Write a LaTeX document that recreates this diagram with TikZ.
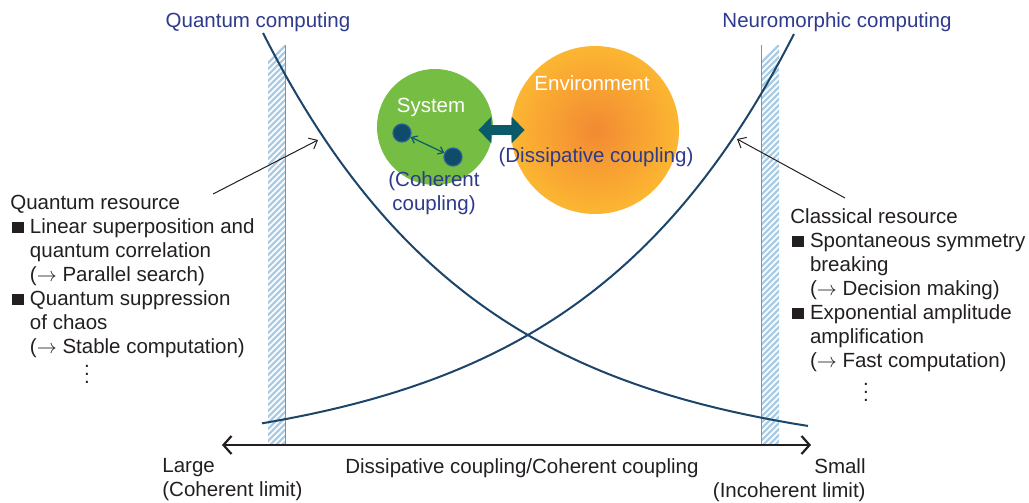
\documentclass[tikz,border=0pt]{standalone}
\usepackage{fontspec}
\setmainfont{Liberation Sans}
\usetikzlibrary{arrows.meta}

\definecolor{textgray}{HTML}{231F20}
\definecolor{titleblue}{HTML}{2E3A8C}
\definecolor{curveblue}{HTML}{1D4569}
\definecolor{hatchblue}{HTML}{A9CBE3}
\definecolor{limitbrown}{HTML}{A38F5B}
\definecolor{sysgreen}{HTML}{76BD43}
\definecolor{envin}{HTML}{F28A33}
\definecolor{envout}{HTML}{FCB632}
\definecolor{arrowteal}{HTML}{0B5A6A}
\definecolor{dotblue}{HTML}{0E4C69}
\definecolor{dotrim}{HTML}{2D5F9A}

\newcommand{\sqbox}{\hspace{1pt}\rule[0.3pt]{5.8pt}{5.8pt}}
\newcommand{\moredots}{\vbox{\baselineskip4pt\lineskiplimit0pt\hbox{.}\hbox{.}\hbox{.}}}

\begin{document}
\begin{tikzpicture}[x=0.5pt,y=-0.5pt]
    \tikzset{txt/.style = {inner sep=0pt, text=textgray, font=\fontsize{10.25}{12}\selectfont}}
    \tikzset{bluetxt/.style = {txt, text=titleblue}}
    \tikzset{whitetxt/.style = {txt, text=white}}
    \tikzset{qdot/.style = {shape=circle, inner sep=0pt, minimum size=9pt, fill=dotblue, draw=dotrim, line width=0.6pt}}
    \tikzset{hatch/.style = {draw=hatchblue, line width=1.1pt}}
    \tikzset{limit/.style = {draw=limitbrown, line width=0.5pt}}
    \tikzset{trend/.style = {draw=curveblue, line width=1pt}}
    \tikzset{pointer/.style = {-{Straight Barb[length=3.5pt,width=6pt]}, line width=0.5pt, textgray}}
    \tikzset{axisline/.style = {{Straight Barb[length=4pt,width=9pt]}-{Straight Barb[length=4pt,width=9pt]}, line width=1.1pt, textgray}}
    \useasboundingbox (0,0) rectangle (1029,503);

    % coherent and incoherent limits
    \begin{scope}
        \clip (268,45) rectangle (285,445);
        \foreach \k in {0,6,...,420} \draw[hatch] (266,\k+65) -- ++(22,-22);
    \end{scope}
    \begin{scope}
        \clip (761,45) rectangle (779,445);
        \foreach \k in {0,6,...,420} \draw[hatch] (759,\k+65) -- ++(22,-22);
    \end{scope}
    \draw[limit] (285,45) -- (285,445);
    \draw[limit] (761,45) -- (761,445);

    \draw[trend] plot[domain=263:808, samples=80] (\x, {460-427*exp(-0.004637*(\x-263))});
    \draw[trend] plot[domain=262:794, samples=80] (\x, {460-426*exp(-0.004612*(794-\x))});

    \coordinate (axl) at (222,445);
    \coordinate (axr) at (811,445);
    \draw[axisline] (axl) -- (axr);

    % system and environment
    \node[shape=circle, inner sep=0pt, minimum size=58pt, fill=sysgreen] (sys) at (435,127) {};
    \node[shape=circle, inner sep=0pt, minimum size=84pt, shade, inner color=envin, outer color=envout] (env) at (595,130) {};
    \node[qdot] (q1) at (402,133) {};
    \node[qdot] (q2) at (453,157) {};
    \draw[{Straight Barb[length=2.5pt,width=4pt]}-{Straight Barb[length=2.5pt,width=4pt]}, arrowteal, line width=0.6pt] (q1) -- (q2);
    \draw[{Triangle[length=6.5pt,width=13pt]}-{Triangle[length=6.5pt,width=13pt]}, arrowteal, line width=5pt]
        ([xshift=-7.5pt,yshift=-1.5pt]sys.east) -- ([xshift=7pt]env.west);
    \node[whitetxt, anchor=base] (systxt) at (431,112.5) {System};
    \node[whitetxt, anchor=base] (envtxt) at (592,90.5) {Environment};
    \node[bluetxt, anchor=base] (dc) at (596,162.5) {(Dissipative coupling)};
    \node[bluetxt, anchor=north, align=center] (cc) at (434,171) {(Coherent\\coupling)};

    \node[bluetxt, anchor=base] (qc) at (258,27.5) {Quantum computing};
    \node[bluetxt, anchor=base] (nc) at (837,27.5) {Neuromorphic computing};

    \node[txt, anchor=north west] (qres) at (10,192.5) {\begin{tabular}[t]{@{}l@{\hspace{3pt}}l@{}}
        \multicolumn{2}{@{}l@{}}{Quantum resource}\\
        \sqbox & Linear superposition and\\
        & quantum correlation\\
        & ($\rightarrow$ Parallel search)\\
        \sqbox & Quantum suppression\\
        & of chaos\\
        & ($\rightarrow$ Stable computation)\\[2pt]
        & \hspace{27pt}\moredots
    \end{tabular}};
    \node[txt, anchor=north west] (cres) at (790,206.5) {\begin{tabular}[t]{@{}l@{\hspace{3pt}}l@{}}
        \multicolumn{2}{@{}l@{}}{Classical resource}\\
        \sqbox & Spontaneous symmetry\\
        & breaking\\
        & ($\rightarrow$ Decision making)\\
        \sqbox & Exponential amplitude\\
        & amplification\\
        & ($\rightarrow$ Fast computation)\\[4pt]
        & \hspace{26.6pt}\moredots
    \end{tabular}};

    \coordinate (qfrom) at (213,194);
    \coordinate (qto) at (318,140);
    \coordinate (cfrom) at (845,198);
    \coordinate (cto) at (737,139);
    \draw[pointer] (qfrom) -- (qto);
    \draw[pointer] (cfrom) -- (cto);

    \node[txt, anchor=north west, align=left] (large) at (162,458) {Large\\(Coherent limit)};
    \node[txt, anchor=north east, align=right] (small) at (866,458) {Small\\(Incoherent limit)};
    \node[txt, anchor=base] (ratio) at (522,473.5) {Dissipative coupling/Coherent coupling};
\end{tikzpicture}
\end{document}
